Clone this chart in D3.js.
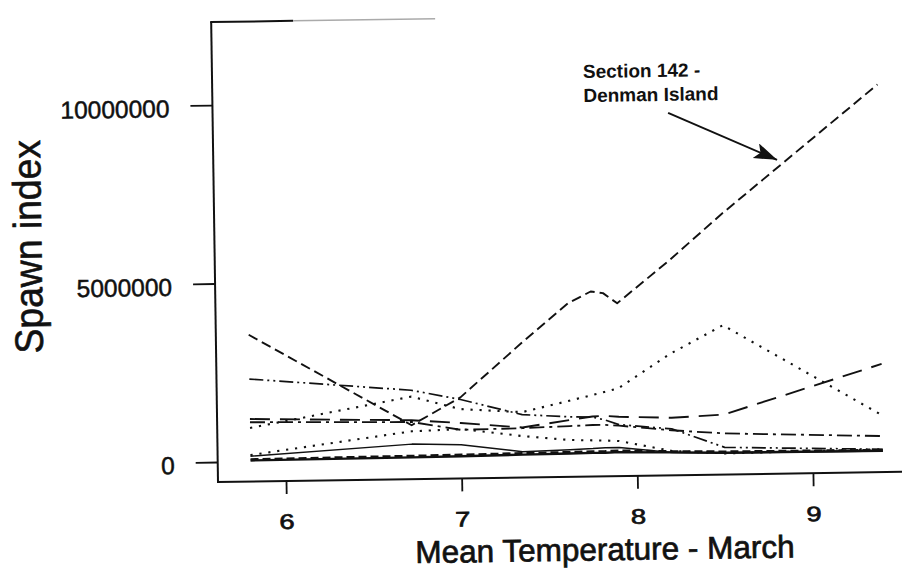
<!DOCTYPE html>
<html><head><meta charset="utf-8">
<script src="https://cdn.jsdelivr.net/npm/d3@7"></script>
<style>
html,body{margin:0;padding:0;background:#fff;}
svg{display:block;}
text{font-family:"Liberation Sans",Arial,sans-serif;fill:#111;}
</style>
</head><body>
<svg id="chart" width="902" height="572"></svg>
<script>
// ---- data ----
const temps = [5.8, 6.72, 7.0, 7.35, 7.62, 7.75, 7.82, 7.9, 8.2, 8.5, 9.4];
const sec142Denman   = [3550000, 950000, 1710000, 3200000, 4300000, 4620000, 4570000, 4280000, 5460000, 6730000, 10300000];
const secDashDotDot  = [2310000, 1930000, 1650000, 1200000, 1120000, 1100000, 1020000, 880000, 740000, 200000, 80000];
const secDottedUpper = [940000, 1750000, 1380000, 1270000, 1570000, 1720000, 1800000, 1900000, 2850000, 3620000, 1030000];
const secLongDash    = [1190000, 1090000, 990000, 840000, 1030000, 1120000, 1130000, 1100000, 1050000, 1120000, 2470000];
const secDashDot     = [1100000, 1040000, 800000, 820000, 860000, 880000, 880000, 850000, 700000, 590000, 450000];
const secDottedLower = [180000, 780000, 820000, 600000, 470000, 450000, 440000, 420000, 120000, 30000, 80000];
const secSolid       = [150000, 420000, 380000, 160000, 200000, 220000, 240000, 240000, 80000, 40000, 30000];
const secThickSolid  = [30000, 50000, 60000, 80000, 90000, 100000, 100000, 110000, 80000, 50000, 40000];
const secThickDash   = [60000, 90000, 100000, 120000, 130000, 140000, 140000, 150000, 110000, 80000, 60000];
const xTicks = [6, 7, 8, 9];
const yTicks = [0, 5000000, 10000000];
const xTitle = "Mean Temperature - March";
const yTitle = "Spawn index";
const annotLines = ["Section 142 -", "Denman Island"];
const annotAt = [7.725, 10600000];
const arrowFrom = [8.206, 9590000];
const arrowTo = [8.822, 8230000];

const seriesList = [sec142Denman, secDashDotDot, secDottedUpper, secLongDash, secDashDot, secDottedLower, secSolid, secThickSolid, secThickDash];
const seriesStyle = [
  {dash: "10,5", w: 1.9},
  {dash: "14,4,2,4,2,4", w: 1.7},
  {dash: "2.2,6.8", w: 2.1},
  {dash: "20,10", w: 1.9},
  {dash: "15,5,3,5", w: 1.8},
  {dash: "2.2,6.8", w: 2.1},
  {dash: null, w: 1.5},
  {dash: null, w: 2.4},
  {dash: "8,4", w: 2.4}
];

// ---- chart ----
const svg = d3.select("#chart");
const x = d3.scaleLinear().domain([6, 9]).range([286, 813]);
const y = d3.scaleLinear().domain([0, 10000000]).range([462, 105]);

// the scanned figure is slightly tilted
const g = svg.append("g").attr("transform", "rotate(-0.85,218,482)");

// frame
g.append("line").attr("x1", 218).attr("y1", 22).attr("x2", 218).attr("y2", 483)
  .attr("stroke", "#111").attr("stroke-width", 2);
g.append("line").attr("x1", 217).attr("y1", 482).attr("x2", 930).attr("y2", 482)
  .attr("stroke", "#111").attr("stroke-width", 2);
g.append("line").attr("x1", 217).attr("y1", 22).attr("x2", 300).attr("y2", 22)
  .attr("stroke", "#111").attr("stroke-width", 2);
g.append("line").attr("x1", 300).attr("y1", 22).attr("x2", 442).attr("y2", 22)
  .attr("stroke", "#aaa").attr("stroke-width", 1.5);

// y axis
const yAxis = g.append("g").attr("transform", "translate(218,0)")
  .call(d3.axisLeft(y).tickValues(yTicks).tickSize(22).tickPadding(21).tickFormat(d3.format("d")));
yAxis.select(".domain").remove();
yAxis.selectAll(".tick line").attr("stroke", "#111").attr("stroke-width", 1.8);
yAxis.selectAll(".tick text").attr("font-size", 24.5).attr("dy", "0.45em")
  .style("font-family", "'Liberation Sans',Arial,sans-serif").attr("fill", "#111")
  .attr("stroke", "#111").attr("stroke-width", 0.5);

// x axis
const xAxis = g.append("g").attr("transform", "translate(0,482)")
  .call(d3.axisBottom(x).tickValues(xTicks).tickSize(13).tickFormat(d3.format("d")));
xAxis.select(".domain").remove();
xAxis.selectAll(".tick line").attr("stroke", "#111").attr("stroke-width", 1.8);
xAxis.selectAll(".tick text").attr("font-size", 21).attr("y", 48).attr("dy", 0)
  .attr("transform", "scale(1.3,1)")
  .style("font-family", "'Liberation Sans',Arial,sans-serif").attr("fill", "#111")
  .attr("stroke", "#111").attr("stroke-width", 0.7);

// titles
g.append("text").attr("x", 604).attr("y", 566).attr("text-anchor", "middle")
  .attr("font-size", 31.5).attr("stroke", "#111").attr("stroke-width", 0.7).text(xTitle);
g.append("text").attr("text-anchor", "middle").attr("font-size", 33)
  .attr("stroke", "#111").attr("stroke-width", 0.5)
  .attr("transform", "translate(45,244) rotate(-90) scale(1.13,1.2)").text(yTitle);

// series
const line = d3.line().x((d, i) => x(temps[i])).y(d => y(d)).curve(d3.curveLinear);
g.selectAll("path.series").data(seriesList).join("path")
  .attr("class", "series")
  .attr("d", d => line(d))
  .attr("fill", "none")
  .attr("stroke", "#111")
  .attr("stroke-linejoin", "round")
  .attr("stroke-width", (d, i) => seriesStyle[i].w)
  .attr("stroke-dasharray", (d, i) => seriesStyle[i].dash);

// annotation
const at = g.append("text").attr("x", x(annotAt[0])).attr("y", y(annotAt[1]))
  .attr("font-size", 19).attr("font-weight", "bold");
annotLines.forEach((t, i) => {
  at.append("tspan").attr("x", x(annotAt[0])).attr("dy", i === 0 ? 0 : 24).text(t);
});
svg.append("defs").append("marker").attr("id", "ah")
  .attr("markerUnits", "userSpaceOnUse").attr("markerWidth", 26).attr("markerHeight", 18)
  .attr("refX", 23).attr("refY", 8).attr("orient", "auto")
  .append("path").attr("d", "M0,0 L23,8 L0,16 L5,8 Z").attr("fill", "#111");
g.append("line")
  .attr("x1", x(arrowFrom[0])).attr("y1", y(arrowFrom[1]))
  .attr("x2", x(arrowTo[0])).attr("y2", y(arrowTo[1]))
  .attr("stroke", "#111").attr("stroke-width", 2).attr("marker-end", "url(#ah)");
</script>
</body></html>
